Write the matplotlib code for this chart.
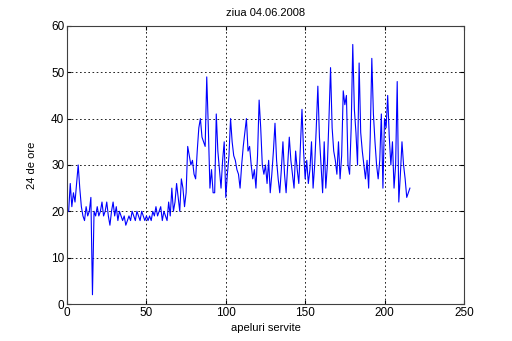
import matplotlib
matplotlib.use("Agg")
import matplotlib.pyplot as plt
import numpy as np

plt.rcParams.update({"font.family": "Liberation Sans", "font.size": 8})

# call durations over the day, one value per served call
durata = [
    20, 26, 21, 24, 22, 26, 30, 25, 21, 19, 18, 21, 19, 20, 23, 2, 20, 19, 21, 19,
    20, 22, 19, 20, 22, 19, 17, 20, 22, 19, 21, 18, 20, 19, 18, 19, 17, 18, 19, 18,
    20, 19, 18, 20, 19, 18, 20, 19, 18, 19, 18, 19, 18, 20, 19, 21, 19, 20, 21, 18,
    20, 19, 18, 22, 19, 25, 20, 22, 26, 23, 20, 27, 25, 21, 24, 34, 32, 30, 31, 28,
    27, 33, 38, 40, 36, 35, 34, 49, 38, 25, 29, 24, 24, 41, 33, 29, 25, 31, 35, 23,
    28, 32, 40, 35, 32, 31, 29, 28, 25, 30, 34, 37, 40, 33, 34, 30, 27, 29, 25, 32,
    44, 38, 30, 28, 30, 26, 31, 24, 28, 33, 39, 31, 27, 24, 29, 35, 28, 24, 30, 36,
    31, 28, 25, 33, 29, 26, 34, 42, 33, 27, 31, 26, 29, 35, 25, 30, 38, 47, 36, 30,
    24, 35, 25, 30, 40, 51, 38, 33, 31, 28, 35, 27, 32, 46, 43, 45, 30, 28, 38, 56,
    42, 37, 30, 52, 37, 33, 30, 27, 31, 25, 36, 53, 41, 35, 30, 27, 31, 41, 25, 40,
    38, 45, 36, 30, 35, 25, 30, 48, 22, 28, 35, 30, 27, 23, 24, 25,
]
apel = np.arange(1, len(durata) + 1)

fig = plt.figure(figsize=(5.12, 3.41), dpi=100)
ax = fig.add_axes([0.131, 0.1085, 0.775, 0.8155])
ax.plot(apel, durata, color="#0000ff", lw=0.8)

ax.set_xlim(0, 250)
ax.set_ylim(0, 60)
ax.set_xticks(np.arange(0, 251, 50))
ax.set_yticks(np.arange(0, 61, 10))
ax.grid(True, color="black", linestyle=(0, (2, 3)), lw=0.6)
ax.tick_params(direction="in", top=True, right=True, length=3, pad=2,
               labelsize=8.5)
for s in ax.spines.values():
    s.set_color("#404040")
    s.set_linewidth(0.8)

ax.set_title("ziua 04.06.2008", fontsize=8, pad=7)
ax.set_xlabel("apeluri servite", labelpad=3)
ax.set_ylabel("24 de ore", labelpad=10)

fig.savefig("out.png", dpi=100)
